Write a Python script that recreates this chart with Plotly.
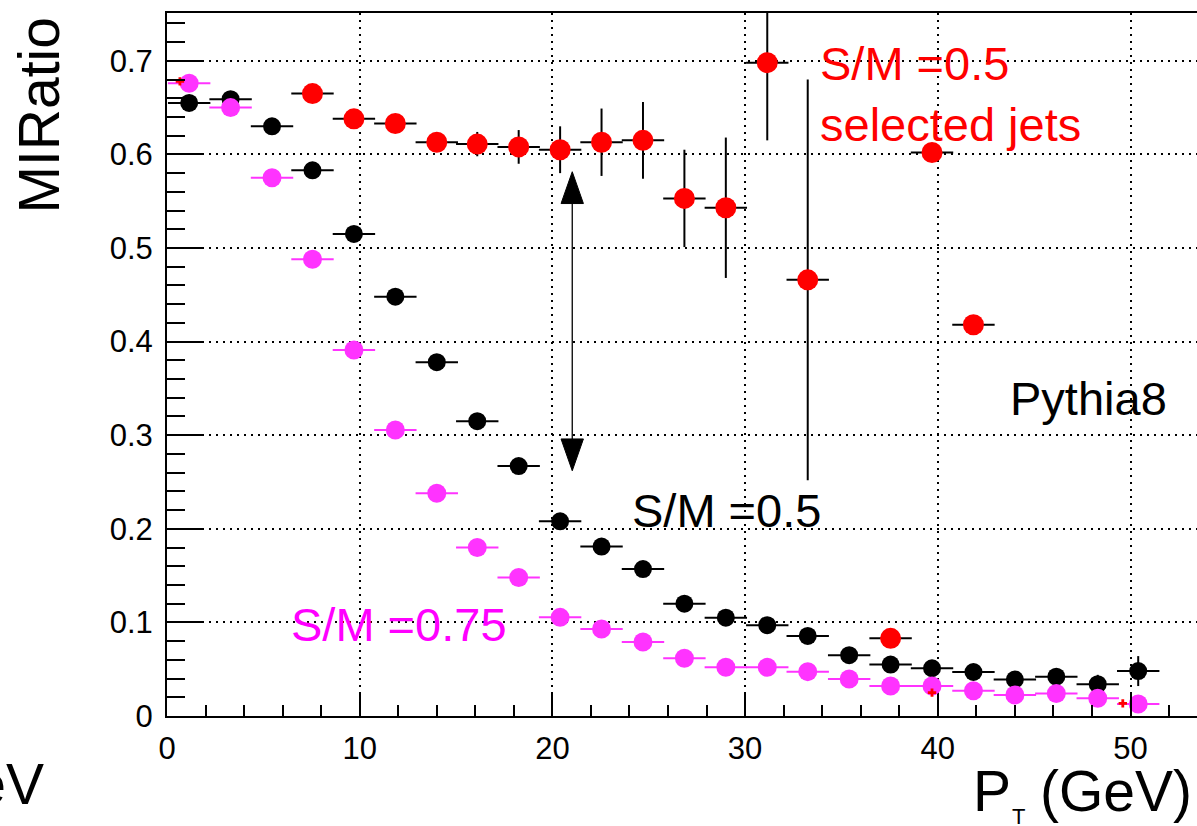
import plotly.graph_objects as go

# ---- data ----
pt_bins = [1.15, 3.3, 5.45, 7.55, 9.7, 11.85, 14.0, 16.1, 18.25, 20.4, 22.55, 24.7,
           26.85, 29.0, 31.15, 33.25, 35.4, 37.55, 39.7, 41.85, 44.0, 46.15, 48.3, 50.4]
bin_half_width = 1.1

ratio_sm05 = [0.655, 0.659, 0.630, 0.583, 0.515, 0.448, 0.378, 0.315, 0.267, 0.208, 0.181, 0.157,
              0.120, 0.105, 0.097, 0.0855, 0.065, 0.055, 0.051, 0.047, 0.039, 0.042, 0.034, 0.048]
err_sm05 = [0.004, 0.004, 0.004, 0.004, 0.004, 0.004, 0.004, 0.004, 0.004, 0.005, 0.005, 0.005,
            0.005, 0.005, 0.005, 0.006, 0.006, 0.007, 0.008, 0.008, 0.009, 0.009, 0.010, 0.016]

ratio_sm075 = [0.676, 0.650, 0.575, 0.488, 0.391, 0.3056, 0.238, 0.180, 0.148, 0.1054, 0.093, 0.079,
               0.0616, 0.052, 0.052, 0.0474, 0.0395, 0.032, 0.032, 0.027, 0.0224, 0.024, 0.019, 0.0128]
err_sm075 = [0.003] * 24

pt_sel = [7.55, 9.7, 11.85, 14.0, 16.1, 18.25, 20.4, 22.55, 24.7, 26.85, 29.0, 31.15, 33.25,
          37.55, 39.7, 41.85]
ratio_sel = [0.665, 0.638, 0.633, 0.613, 0.611, 0.608, 0.605, 0.613, 0.615, 0.553, 0.543, 0.698,
             0.466, 0.083, 0.602, 0.418]
err_sel = [0.004, 0.005, 0.006, 0.008, 0.013, 0.018, 0.025, 0.036, 0.041, 0.052, 0.075, 0.083,
           0.214, 0.006, 0.008, 0.007]

pt_sel_small = [0.67, 39.7, 49.6]
ratio_sel_small = [0.678, 0.025, 0.0135]

# arrow annotation (data coords)
arrow_x = 21.03
arrow_y_top = 0.5815
arrow_y_bottom = 0.262

x_ticks = [0, 10, 20, 30, 40, 50]

# ---- geometry helpers (pixels -> paper) ----
W, H = 1197, 826
L, R, T, B = 167, 0, 13, 110
PW, PH = W - L - R, H - T - B


def px(x):
    return (x - L) / PW


def py(y):
    return (H - B - y) / PH


FONT = "Liberation Sans, Arial, Helvetica, sans-serif"

fig = go.Figure()

fig.add_trace(go.Scatter(
    x=pt_bins, y=ratio_sm05, mode="markers",
    marker=dict(color="black", size=18, line=dict(width=0)),
    error_x=dict(type="constant", value=bin_half_width, color="black", thickness=2, width=0),
    error_y=dict(type="data", array=err_sm05, color="black", thickness=2, width=0),
    showlegend=False,
))
fig.add_trace(go.Scatter(
    x=pt_bins, y=ratio_sm075, mode="markers",
    marker=dict(color="#ff33ff", size=19, line=dict(width=0)),
    error_x=dict(type="constant", value=bin_half_width, color="#ff33ff", thickness=2, width=0),
    error_y=dict(type="data", array=err_sm075, color="#ff33ff", thickness=2, width=0),
    showlegend=False,
))
fig.add_trace(go.Scatter(
    x=pt_sel, y=ratio_sel, mode="markers",
    marker=dict(color="#ff0000", size=21, line=dict(width=0)),
    error_x=dict(type="constant", value=bin_half_width, color="black", thickness=2, width=0),
    error_y=dict(type="data", array=err_sel, color="black", thickness=2, width=0),
    showlegend=False,
))
fig.add_trace(go.Scatter(
    x=pt_sel_small, y=ratio_sel_small, mode="markers",
    marker=dict(color="#ff0000", size=7, symbol="cross", line=dict(width=0)),
    showlegend=False,
))

# double-headed arrow
head_h = 0.034
head_w = 0.58
shapes = [
    dict(type="line", xref="x", yref="y", x0=arrow_x, x1=arrow_x,
         y0=arrow_y_bottom + head_h, y1=arrow_y_top - head_h,
         line=dict(color="black", width=1.3)),
    dict(type="path", xref="x", yref="y",
         path=f"M {arrow_x} {arrow_y_top} L {arrow_x - head_w} {arrow_y_top - head_h} "
              f"L {arrow_x + head_w} {arrow_y_top - head_h} Z",
         fillcolor="black", line=dict(color="black", width=1)),
    dict(type="path", xref="x", yref="y",
         path=f"M {arrow_x} {arrow_y_bottom} L {arrow_x - head_w} {arrow_y_bottom + head_h} "
              f"L {arrow_x + head_w} {arrow_y_bottom + head_h} Z",
         fillcolor="black", line=dict(color="black", width=1)),
]

ann = []


def text(t, x, y, size, color="black", xanchor="left", yanchor="middle", angle=0, align="left"):
    ann.append(dict(text=t, x=px(x), y=py(y), xref="paper", yref="paper",
                    xanchor=xanchor, yanchor=yanchor, showarrow=False, textangle=angle,
                    align=align, font=dict(family=FONT, size=size, color=color)))


text("S/M =0.5", 630, 511, 47)
text("S/M =0.5<br>selected jets", 818, 94, 47, color="#ff0000")
text("Pythia8", 1008, 398, 47)
text("S/M =0.75", 289, 624, 47, color="#ff00ff")
text("MIRatio", 38.5, 116, 57, xanchor="center", angle=-90)
text("P", 971, 791, 57)
text("T", 1018, 816, 22, xanchor="center")
text("(GeV)", 1194, 791, 57, xanchor="right")
text("GeV", 46, 784, 57, xanchor="right")

fig.update_layout(
    width=W, height=H,
    margin=dict(l=L, r=R, t=T, b=B, pad=0),
    paper_bgcolor="white", plot_bgcolor="white",
    font=dict(family=FONT, color="black", size=31),
    shapes=shapes, annotations=ann,
)
fig.update_xaxes(
    range=[0, PW / 19.27], tickvals=x_ticks, ticks="inside", ticklen=22, tickwidth=2,
    tickcolor="black", showline=True, linecolor="black", linewidth=2, mirror=True,
    showgrid=True, gridcolor="black", gridwidth=1.5, griddash="2px,5px", zeroline=False,
    minor=dict(dtick=2, ticks="inside", ticklen=11, tickwidth=2, tickcolor="black", showgrid=False),
    tickfont=dict(size=31), ticklabelstandoff=4,
)
fig.update_yaxes(
    range=[0, PH / 936], dtick=0.1, ticks="inside", ticklen=36, tickwidth=2,
    tickcolor="black", showline=True, linecolor="black", linewidth=2, mirror=False,
    showgrid=True, gridcolor="black", gridwidth=1.5, griddash="2px,5px", zeroline=False,
    minor=dict(dtick=0.02, ticks="inside", ticklen=18, tickwidth=2, tickcolor="black", showgrid=False),
    tickfont=dict(size=31), ticklabelstandoff=6,
)

fig.write_html("out.html", config={"displayModeBar": False},
               post_script="document.body.style.margin='0px';document.body.style.overflow='hidden';")
